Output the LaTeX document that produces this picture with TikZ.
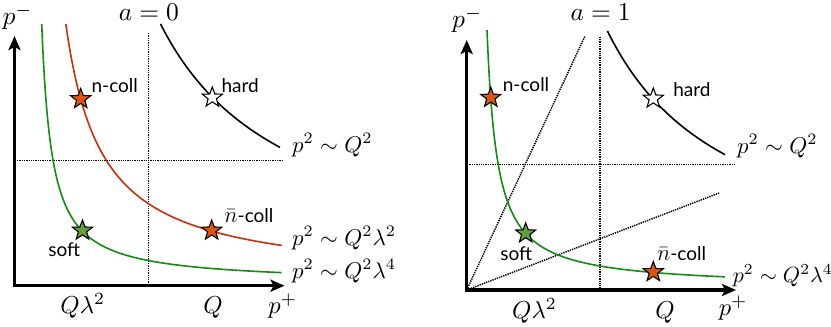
\documentclass[tikz,border=0pt]{standalone}
\usepackage{fontspec}
\newfontfamily\labelfont{Lato}
\usetikzlibrary{shapes.geometric,arrows.meta}
\definecolor{redcurve}{RGB}{205,45,10}
\definecolor{orangestar}{RGB}{222,85,15}
\definecolor{greencurve}{RGB}{20,140,20}
\definecolor{softstar}{RGB}{100,160,55}
\begin{document}
\begin{tikzpicture}[x=1pt,y=-1pt,
  axis/.style={line width=3.3pt, line join=miter,
    {Stealth[length=14pt,width=12pt,inset=3pt]}-{Stealth[length=14pt,width=12pt,inset=3pt]}},
  guide/.style={line width=1.5pt, dash pattern=on 1.3pt off 1pt},
  curve/.style={line width=1.6pt, samples=300},
  markstar/.style={star, star points=5, star point ratio=2.4, minimum size=21pt,
    inner sep=0pt, draw=black, line width=1.1pt},
  mathlbl/.style={anchor=base west, inner sep=0pt, scale=2.28},
  axlbl/.style={anchor=base west, inner sep=0pt, scale=2.45},
  biglbl/.style={anchor=base west, inner sep=0pt, scale=2.55},
  txt/.style={anchor=base west, inner sep=0pt, font=\labelfont, scale=1.9},
]
\useasboundingbox (0,0) rectangle (831,327);

% ---------------- left panel (a=0) ----------------
\coordinate (L-top) at (14.5,36);
\coordinate (L-o) at (14.5,285.7);
\coordinate (L-right) at (284.5,285.7);
\draw[guide] (148.3,33) -- (148.3,285.7);
\draw[guide] (17,160.3) -- (283,160.3);
\draw[curve,black] plot[domain=160.5:280] (\x,{285.7-(3+339/((\x-29.5)/100))});
\draw[curve,redcurve] plot[domain=65.84:281.7] (\x,{285.7-(3+94/((\x-29.5)/100))});
\draw[curve,greencurve] plot[domain=41.72:281.7] (\x,{285.7-(2.5+26.5/((\x-31.5)/100))});
\draw[axis] (L-top) -- (L-o) -- (L-right);

\node[markstar,fill=orangestar] (L-ncoll) at (80.7,99) {};
\node[markstar,fill=white] (L-hard) at (212.3,97.5) {};
\node[markstar,fill=orangestar] (L-nbar) at (211.7,230.5) {};
\node[markstar,fill=softstar] (L-soft) at (82.5,230.5) {};

\node[txt] (L-ncolllbl) at (91.2,92) {n-coll};
\node[txt] (L-hardlbl) at (221.2,92) {hard};
\node[txt] (L-nbarlbl) at (224,222.7) {{\fontsize{11.5}{12}\selectfont$\bar n$}-coll};
\node[txt] (L-softlbl) at (48,256) {soft};

\node[biglbl] (L-pminus) at (2,24.5) {$p^-$};
\node[biglbl] (L-a) at (118.3,20) {$a=0$};
\node[axlbl] (L-Ql) at (60,313.5) {$Q\lambda^2$};
\node[axlbl] (L-Q) at (203,313.5) {$Q$};
\node[axlbl] (L-pplus) at (268,313.3) {$p^+$};
\node[mathlbl] (L-h) at (291.7,152) {$p^2\sim Q^2$};
\node[mathlbl] (L-c) at (291.7,245) {$p^2\sim Q^2\lambda^2$};
\node[mathlbl] (L-s) at (291.7,278) {$p^2\sim Q^2\lambda^4$};

% ---------------- right panel (a=1) ----------------
\coordinate (R-top) at (466.7,40);
\coordinate (R-o) at (466.7,290);
\coordinate (R-right) at (736,290);
\coordinate (R-d1) at (585,36);
\coordinate (R-d2) at (720,192.7);
\draw[guide] (600,36.7) -- (600,290);
\draw[guide] (469.3,164.3) -- (735,164.3);
\draw[guide] (R-o) -- (R-d1);
\draw[guide] (R-o) -- (R-d2);
\draw[curve,black] plot[domain=607.5:725] (\x,{290-(3+322/((\x-481.7)/100))});
\draw[curve,greencurve] plot[domain=487:725] (\x,{290-(2.5+26.5/((\x-476.7)/100))});
\draw[axis] (R-top) -- (R-o) -- (R-right);

\node[markstar,fill=orangestar] (R-ncoll) at (490.8,97.7) {};
\node[markstar,fill=white] (R-hard) at (653.3,98.5) {};
\node[markstar,fill=softstar] (R-soft) at (525.7,233.3) {};
\node[markstar,fill=orangestar] (R-nbar) at (653.3,272) {};

\node[txt] (R-ncolllbl) at (502.5,91.2) {n-coll};
\node[txt] (R-hardlbl) at (673,96.7) {hard};
\node[txt] (R-nbarlbl) at (656.7,260) {{\fontsize{11.5}{12}\selectfont$\bar n$}-coll};
\node[txt] (R-softlbl) at (500,260) {soft};

\node[biglbl] (R-pminus) at (451.7,27.5) {$p^-$};
\node[biglbl] (R-a) at (570,20) {$a=1$};
\node[axlbl] (R-Ql) at (511.7,318.5) {$Q\lambda^2$};
\node[axlbl] (R-Q) at (655,318.5) {$Q$};
\node[axlbl] (R-pplus) at (718.3,315.5) {$p^+$};
\node[mathlbl] (R-h) at (736.7,153) {$p^2\sim Q^2$};
\node[mathlbl,scale=0.96] (R-s) at (732.5,282) {$p^2\sim Q^2\lambda^4$};
\end{tikzpicture}
\end{document}
